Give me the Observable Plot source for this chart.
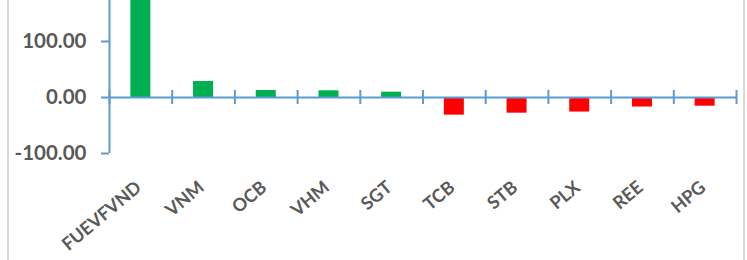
<!DOCTYPE html>
<html>
<head>
<meta charset="utf-8">
<script src="https://cdn.jsdelivr.net/npm/d3@7"></script>
<script src="https://cdn.jsdelivr.net/npm/@observablehq/plot@0.6"></script>
<style>
  html, body { margin: 0; padding: 0; background: #fff; }
  #wrap { position: relative; width: 747px; height: 260px; overflow: hidden; }
  #wrap::before { content: ""; position: absolute; left: 7px; top: 0; bottom: 0; border-left: 2px solid #d9d9d9; }
  #wrap::after { content: ""; position: absolute; left: 743px; top: 0; bottom: 0; border-left: 2px solid #d9d9d9; }
  #wrap svg { display: block; }
</style>
</head>
<body>
<div id="wrap"></div>
<script>
const tickers = ["FUEVFVND", "VNM", "OCB", "VHM", "SGT", "TCB", "STB", "PLX", "REE", "HPG"];
const values = [190, 28.5, 12.5, 12, 9.5, -31.5, -28, -26, -17, -15.5];
const yTicks = [-100, 0, 100];
const yDomain = [-100, 200];

const data = tickers.map((t, i) => ({ticker: t, value: values[i]}));

const W = 747, H = 260, mL = 109, mR = 11, mT = -15, mB = 107;
const step = (W - mL - mR) / tickers.length;
const barW = 20;
const blue = "#5b9bd5";
const grey = "#595959";

const chart = Plot.plot({
  width: W,
  height: H,
  marginLeft: mL,
  marginRight: mR,
  marginTop: mT,
  marginBottom: mB,
  style: {fontFamily: "Lato, sans-serif", fontWeight: "bold", fontSize: "20px", color: grey, overflow: "visible"},
  x: {domain: tickers, padding: 0, round: false},
  y: {domain: yDomain},
  marks: [
    Plot.barY(data, {
      x: "ticker", y: "value",
      fill: d => d.value >= 0 ? "#00b050" : "#ff0000",
      insetLeft: (step - barW) / 2, insetRight: (step - barW) / 2
    }),
    // zero line
    Plot.ruleY([0], {stroke: blue, strokeWidth: 2}),
    // y axis line
    Plot.ruleX([tickers[0]], {x: d => d, y1: d => yDomain[0], y2: d => yDomain[1], dx: -step / 2, stroke: blue, strokeWidth: 2}),
    // category boundary ticks
    Plot.ruleX(tickers, {x: d => d, y1: d => 0, y2: d => 0, insetTop: -7, insetBottom: -7, dx: -step / 2, stroke: blue, strokeWidth: 2}),
    Plot.ruleX([tickers[tickers.length - 1]], {x: d => d, y1: d => 0, y2: d => 0, insetTop: -7, insetBottom: -7, dx: step / 2, stroke: blue, strokeWidth: 2}),
    Plot.axisY({
      ticks: yTicks, tickFormat: d => d.toFixed(2), tickSize: 8, tickPadding: 15,
      stroke: blue, strokeWidth: 2, fill: grey, fontSize: 20.5, label: null
    }),
    Plot.axisX({
      tickRotate: -40, tickSize: 0, tickPadding: 31.5, dx: -2, fill: grey, fontSize: 18, label: null
    })
  ]
});
document.getElementById("wrap").appendChild(chart);
</script>
</body>
</html>
